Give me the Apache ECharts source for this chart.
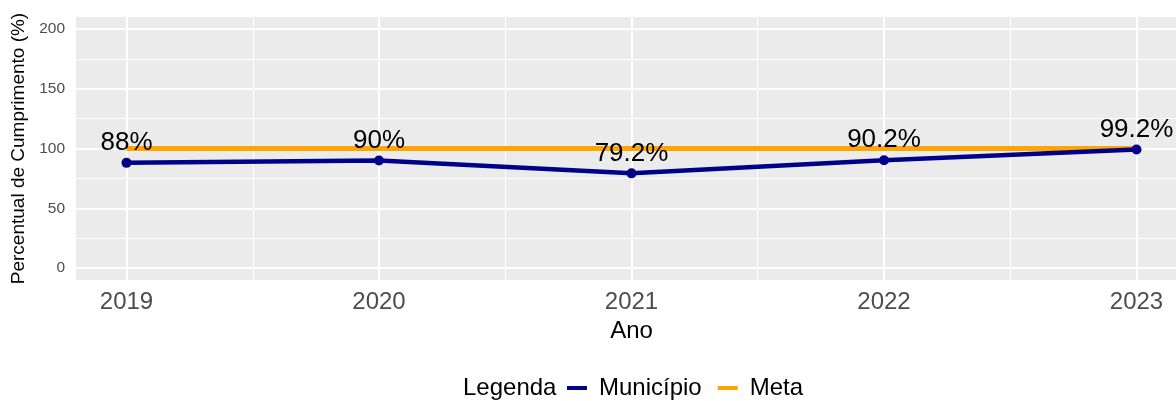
<!DOCTYPE html>
<html>
<head>
<meta charset="utf-8">
<script src="https://cdn.jsdelivr.net/npm/echarts@6/dist/echarts.min.js"></script>
<style>
  html, body { margin: 0; padding: 0; background: #fff; }
  #main { width: 1176px; height: 401px; }
</style>
</head>
<body>
<div id="main"></div>
<script>
// dados
var anos = [2019, 2020, 2021, 2022, 2023];
var municipio = [88, 90, 79.2, 90.2, 99.2];
var meta = [100, 100, 100, 100, 100];
var yTicks = [0, 50, 100, 150, 200];
var yMinor = [25, 75, 125, 175];
var xMinor = [2019.5, 2020.5, 2021.5, 2022.5];

var fonte = 'Liberation Sans, Arial, sans-serif';

function pares(xs, ys) {
    var out = [];
    for (var i = 0; i < xs.length; i++) out.push([xs[i], ys[i]]);
    return out;
}

var myChart = echarts.init(document.getElementById('main'));

var option = {
    backgroundColor: '#fff',
    animation: false,
    textStyle: { fontFamily: fonte },
    grid: {
        left: 76, top: 17, width: 1111, height: 263,
        outerBoundsMode: 'none', containLabel: false,
        show: true, backgroundColor: '#EBEBEB', borderWidth: 0
    },
    xAxis: [{
        type: 'value', min: 2018.8, max: 2023.2,
        name: 'Ano', nameLocation: 'middle', nameGap: 36,
        nameTextStyle: { fontSize: 24, color: '#000', fontFamily: fonte },
        axisLine: { show: false },
        axisTick: { show: false, customValues: anos },
        axisLabel: { customValues: anos, fontSize: 24, color: '#4D4D4D', margin: 10, fontFamily: fonte,
            formatter: function (v) { return String(v); } },
        splitLine: { show: true, lineStyle: { color: '#fff', width: 2 } }
    }, {
        type: 'value', min: 2018.8, max: 2023.2, position: 'bottom',
        axisLine: { show: false },
        axisTick: { show: false, customValues: xMinor },
        axisLabel: { show: false, customValues: xMinor },
        splitLine: { show: true, lineStyle: { color: '#fff', width: 1 } }
    }],
    yAxis: [{
        type: 'value', min: -10, max: 210,
        name: 'Percentual de Cumprimento (%)', nameLocation: 'middle', nameGap: 48,
        nameTextStyle: { fontSize: 19, color: '#000', fontFamily: fonte },
        axisLine: { show: false },
        axisTick: { show: false, customValues: yTicks },
        axisLabel: { customValues: yTicks, fontSize: 15.5, color: '#4D4D4D', margin: 11, fontFamily: fonte },
        splitLine: { show: true, lineStyle: { color: '#fff', width: 2 } }
    }, {
        type: 'value', min: -10, max: 210, position: 'left',
        axisLine: { show: false },
        axisTick: { show: false, customValues: yMinor },
        axisLabel: { show: false, customValues: yMinor },
        splitLine: { show: true, lineStyle: { color: '#fff', width: 1 } }
    }],
    legend: {
        left: 567, top: 376, padding: 0,
        itemWidth: 20, itemHeight: 4, itemGap: 16,
        icon: 'rect',
        data: ['Município', 'Meta'],
        textStyle: { fontSize: 24, color: '#000', fontFamily: fonte, padding: [0, 0, 0, 7] }
    },
    graphic: [{
        type: 'text', left: 463, top: 376,
        style: { text: 'Legenda', fontSize: 24, fill: '#000', fontFamily: fonte }
    }],
    series: [
        {
            name: 'Meta',
            type: 'line',
            data: pares(anos, meta),
            showSymbol: false,
            symbol: 'none',
            itemStyle: { color: '#FFA500' },
            lineStyle: { color: '#FFA500', width: 5 },
            z: 2
        },
        {
            name: 'Município',
            type: 'line',
            data: pares(anos, municipio),
            symbol: 'circle',
            symbolSize: 10,
            itemStyle: { color: '#00008B' },
            lineStyle: { color: '#00008B', width: 4.5 },
            label: {
                show: true, position: 'top', distance: 2,
                fontSize: 26, color: '#000', fontFamily: fonte,
                formatter: function (p) { return p.value[1] + '%'; }
            },
            z: 3
        }
    ]
};

myChart.setOption(option);
</script>
</body>
</html>
